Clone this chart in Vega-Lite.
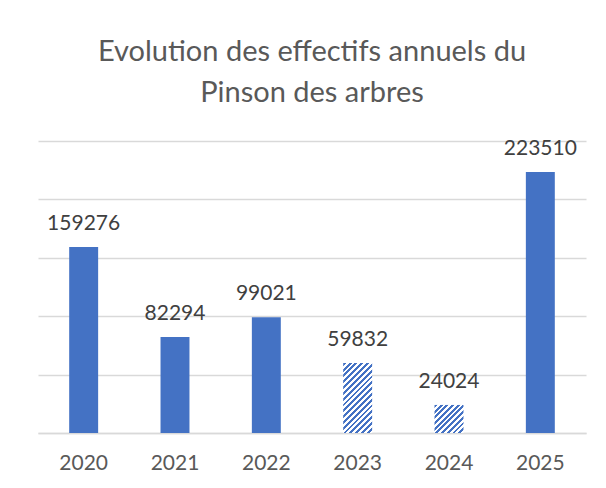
{
  "$schema": "https://vega.github.io/schema/vega-lite/v6.json",
  "width": 548,
  "height": 292,
  "autosize": "none",
  "padding": {"left": 38, "top": 141, "right": 20, "bottom": 55},
  "background": "white",
  "title": {
    "text": ["Evolution des effectifs annuels du", "Pinson des arbres"],
    "font": "Lato",
    "fontSize": 29,
    "fontWeight": "normal",
    "color": "#595959",
    "anchor": "middle",
    "lineHeight": 41,
    "offset": 30
  },
  "data": {
    "values": [
      {"annee": "2020", "effectif": 159276},
      {"annee": "2021", "effectif": 82294},
      {"annee": "2022", "effectif": 99021},
      {"annee": "2023", "effectif": 59832},
      {"annee": "2024", "effectif": 24024},
      {"annee": "2025", "effectif": 223510}
    ]
  },
  "encoding": {
    "x": {
      "field": "annee",
      "type": "nominal",
      "sort": ["2020", "2021", "2022", "2023", "2024", "2025"],
      "scale": {"paddingInner": 0.683, "paddingOuter": 0.3415},
      "axis": {
        "title": null,
        "labelAngle": 0,
        "ticks": false,
        "domainColor": "#D9D9D9",
        "domainWidth": 1.5,
        "labelFont": "Lato",
        "labelFontSize": 21,
        "labelColor": "#595959",
        "labelPadding": 19
      }
    },
    "y": {
      "field": "effectif",
      "type": "quantitative",
      "scale": {"domain": [0, 250000], "nice": false},
      "axis": {
        "title": null,
        "labels": false,
        "ticks": false,
        "domain": false,
        "grid": true,
        "gridColor": "#D9D9D9",
        "gridWidth": 1.5,
        "values": [0, 50000, 100000, 150000, 200000, 250000]
      }
    }
  },
  "layer": [
    {
      "transform": [{"filter": "datum.annee != '2023' && datum.annee != '2024'"}],
      "mark": {"type": "bar", "fill": "#4472C4"}
    },
    {
      "transform": [{"filter": "datum.annee == '2023'"}],
      "mark": {
        "type": "bar",
        "fill": {
          "gradient": "linear",
          "x1": 0, "y1": 0, "x2": 0.5, "y2": 1.2071,
          "stops": [
            {"offset": 0, "color": "#4472C4"}, {"offset": 0.0294, "color": "#4472C4"}, {"offset": 0.0294, "color": "#FFFFFF"}, {"offset": 0.0588, "color": "#FFFFFF"},
            {"offset": 0.0588, "color": "#4472C4"}, {"offset": 0.0882, "color": "#4472C4"}, {"offset": 0.0882, "color": "#FFFFFF"}, {"offset": 0.1176, "color": "#FFFFFF"},
            {"offset": 0.1176, "color": "#4472C4"}, {"offset": 0.1471, "color": "#4472C4"}, {"offset": 0.1471, "color": "#FFFFFF"}, {"offset": 0.1765, "color": "#FFFFFF"},
            {"offset": 0.1765, "color": "#4472C4"}, {"offset": 0.2059, "color": "#4472C4"}, {"offset": 0.2059, "color": "#FFFFFF"}, {"offset": 0.2353, "color": "#FFFFFF"},
            {"offset": 0.2353, "color": "#4472C4"}, {"offset": 0.2647, "color": "#4472C4"}, {"offset": 0.2647, "color": "#FFFFFF"}, {"offset": 0.2941, "color": "#FFFFFF"},
            {"offset": 0.2941, "color": "#4472C4"}, {"offset": 0.3235, "color": "#4472C4"}, {"offset": 0.3235, "color": "#FFFFFF"}, {"offset": 0.3529, "color": "#FFFFFF"},
            {"offset": 0.3529, "color": "#4472C4"}, {"offset": 0.3824, "color": "#4472C4"}, {"offset": 0.3824, "color": "#FFFFFF"}, {"offset": 0.4118, "color": "#FFFFFF"},
            {"offset": 0.4118, "color": "#4472C4"}, {"offset": 0.4412, "color": "#4472C4"}, {"offset": 0.4412, "color": "#FFFFFF"}, {"offset": 0.4706, "color": "#FFFFFF"},
            {"offset": 0.4706, "color": "#4472C4"}, {"offset": 0.5, "color": "#4472C4"}, {"offset": 0.5, "color": "#FFFFFF"}, {"offset": 0.5294, "color": "#FFFFFF"},
            {"offset": 0.5294, "color": "#4472C4"}, {"offset": 0.5588, "color": "#4472C4"}, {"offset": 0.5588, "color": "#FFFFFF"}, {"offset": 0.5882, "color": "#FFFFFF"},
            {"offset": 0.5882, "color": "#4472C4"}, {"offset": 0.6176, "color": "#4472C4"}, {"offset": 0.6176, "color": "#FFFFFF"}, {"offset": 0.6471, "color": "#FFFFFF"},
            {"offset": 0.6471, "color": "#4472C4"}, {"offset": 0.6765, "color": "#4472C4"}, {"offset": 0.6765, "color": "#FFFFFF"}, {"offset": 0.7059, "color": "#FFFFFF"},
            {"offset": 0.7059, "color": "#4472C4"}, {"offset": 0.7353, "color": "#4472C4"}, {"offset": 0.7353, "color": "#FFFFFF"}, {"offset": 0.7647, "color": "#FFFFFF"},
            {"offset": 0.7647, "color": "#4472C4"}, {"offset": 0.7941, "color": "#4472C4"}, {"offset": 0.7941, "color": "#FFFFFF"}, {"offset": 0.8235, "color": "#FFFFFF"},
            {"offset": 0.8235, "color": "#4472C4"}, {"offset": 0.8529, "color": "#4472C4"}, {"offset": 0.8529, "color": "#FFFFFF"}, {"offset": 0.8824, "color": "#FFFFFF"},
            {"offset": 0.8824, "color": "#4472C4"}, {"offset": 0.9118, "color": "#4472C4"}, {"offset": 0.9118, "color": "#FFFFFF"}, {"offset": 0.9412, "color": "#FFFFFF"},
            {"offset": 0.9412, "color": "#4472C4"}, {"offset": 0.9706, "color": "#4472C4"}, {"offset": 0.9706, "color": "#FFFFFF"}, {"offset": 1, "color": "#FFFFFF"}
          ]
        }
      }
    },
    {
      "transform": [{"filter": "datum.annee == '2024'"}],
      "mark": {
        "type": "bar",
        "fill": {
          "gradient": "linear",
          "x1": 0, "y1": 0, "x2": 1.0153, "y2": 0.9841,
          "stops": [
            {"offset": 0, "color": "#4472C4"}, {"offset": 0.05, "color": "#4472C4"}, {"offset": 0.05, "color": "#FFFFFF"}, {"offset": 0.1, "color": "#FFFFFF"},
            {"offset": 0.1, "color": "#4472C4"}, {"offset": 0.15, "color": "#4472C4"}, {"offset": 0.15, "color": "#FFFFFF"}, {"offset": 0.2, "color": "#FFFFFF"},
            {"offset": 0.2, "color": "#4472C4"}, {"offset": 0.25, "color": "#4472C4"}, {"offset": 0.25, "color": "#FFFFFF"}, {"offset": 0.3, "color": "#FFFFFF"},
            {"offset": 0.3, "color": "#4472C4"}, {"offset": 0.35, "color": "#4472C4"}, {"offset": 0.35, "color": "#FFFFFF"}, {"offset": 0.4, "color": "#FFFFFF"},
            {"offset": 0.4, "color": "#4472C4"}, {"offset": 0.45, "color": "#4472C4"}, {"offset": 0.45, "color": "#FFFFFF"}, {"offset": 0.5, "color": "#FFFFFF"},
            {"offset": 0.5, "color": "#4472C4"}, {"offset": 0.55, "color": "#4472C4"}, {"offset": 0.55, "color": "#FFFFFF"}, {"offset": 0.6, "color": "#FFFFFF"},
            {"offset": 0.6, "color": "#4472C4"}, {"offset": 0.65, "color": "#4472C4"}, {"offset": 0.65, "color": "#FFFFFF"}, {"offset": 0.7, "color": "#FFFFFF"},
            {"offset": 0.7, "color": "#4472C4"}, {"offset": 0.75, "color": "#4472C4"}, {"offset": 0.75, "color": "#FFFFFF"}, {"offset": 0.8, "color": "#FFFFFF"},
            {"offset": 0.8, "color": "#4472C4"}, {"offset": 0.85, "color": "#4472C4"}, {"offset": 0.85, "color": "#FFFFFF"}, {"offset": 0.9, "color": "#FFFFFF"},
            {"offset": 0.9, "color": "#4472C4"}, {"offset": 0.95, "color": "#4472C4"}, {"offset": 0.95, "color": "#FFFFFF"}, {"offset": 1, "color": "#FFFFFF"}
          ]
        }
      }
    },
    {
      "mark": {
        "type": "text",
        "font": "Lato",
        "fontSize": 21,
        "color": "#404040",
        "baseline": "alphabetic",
        "dy": -17
      },
      "encoding": {"text": {"field": "effectif", "type": "quantitative", "format": "d"}}
    }
  ],
  "config": {"view": {"stroke": null}}
}
